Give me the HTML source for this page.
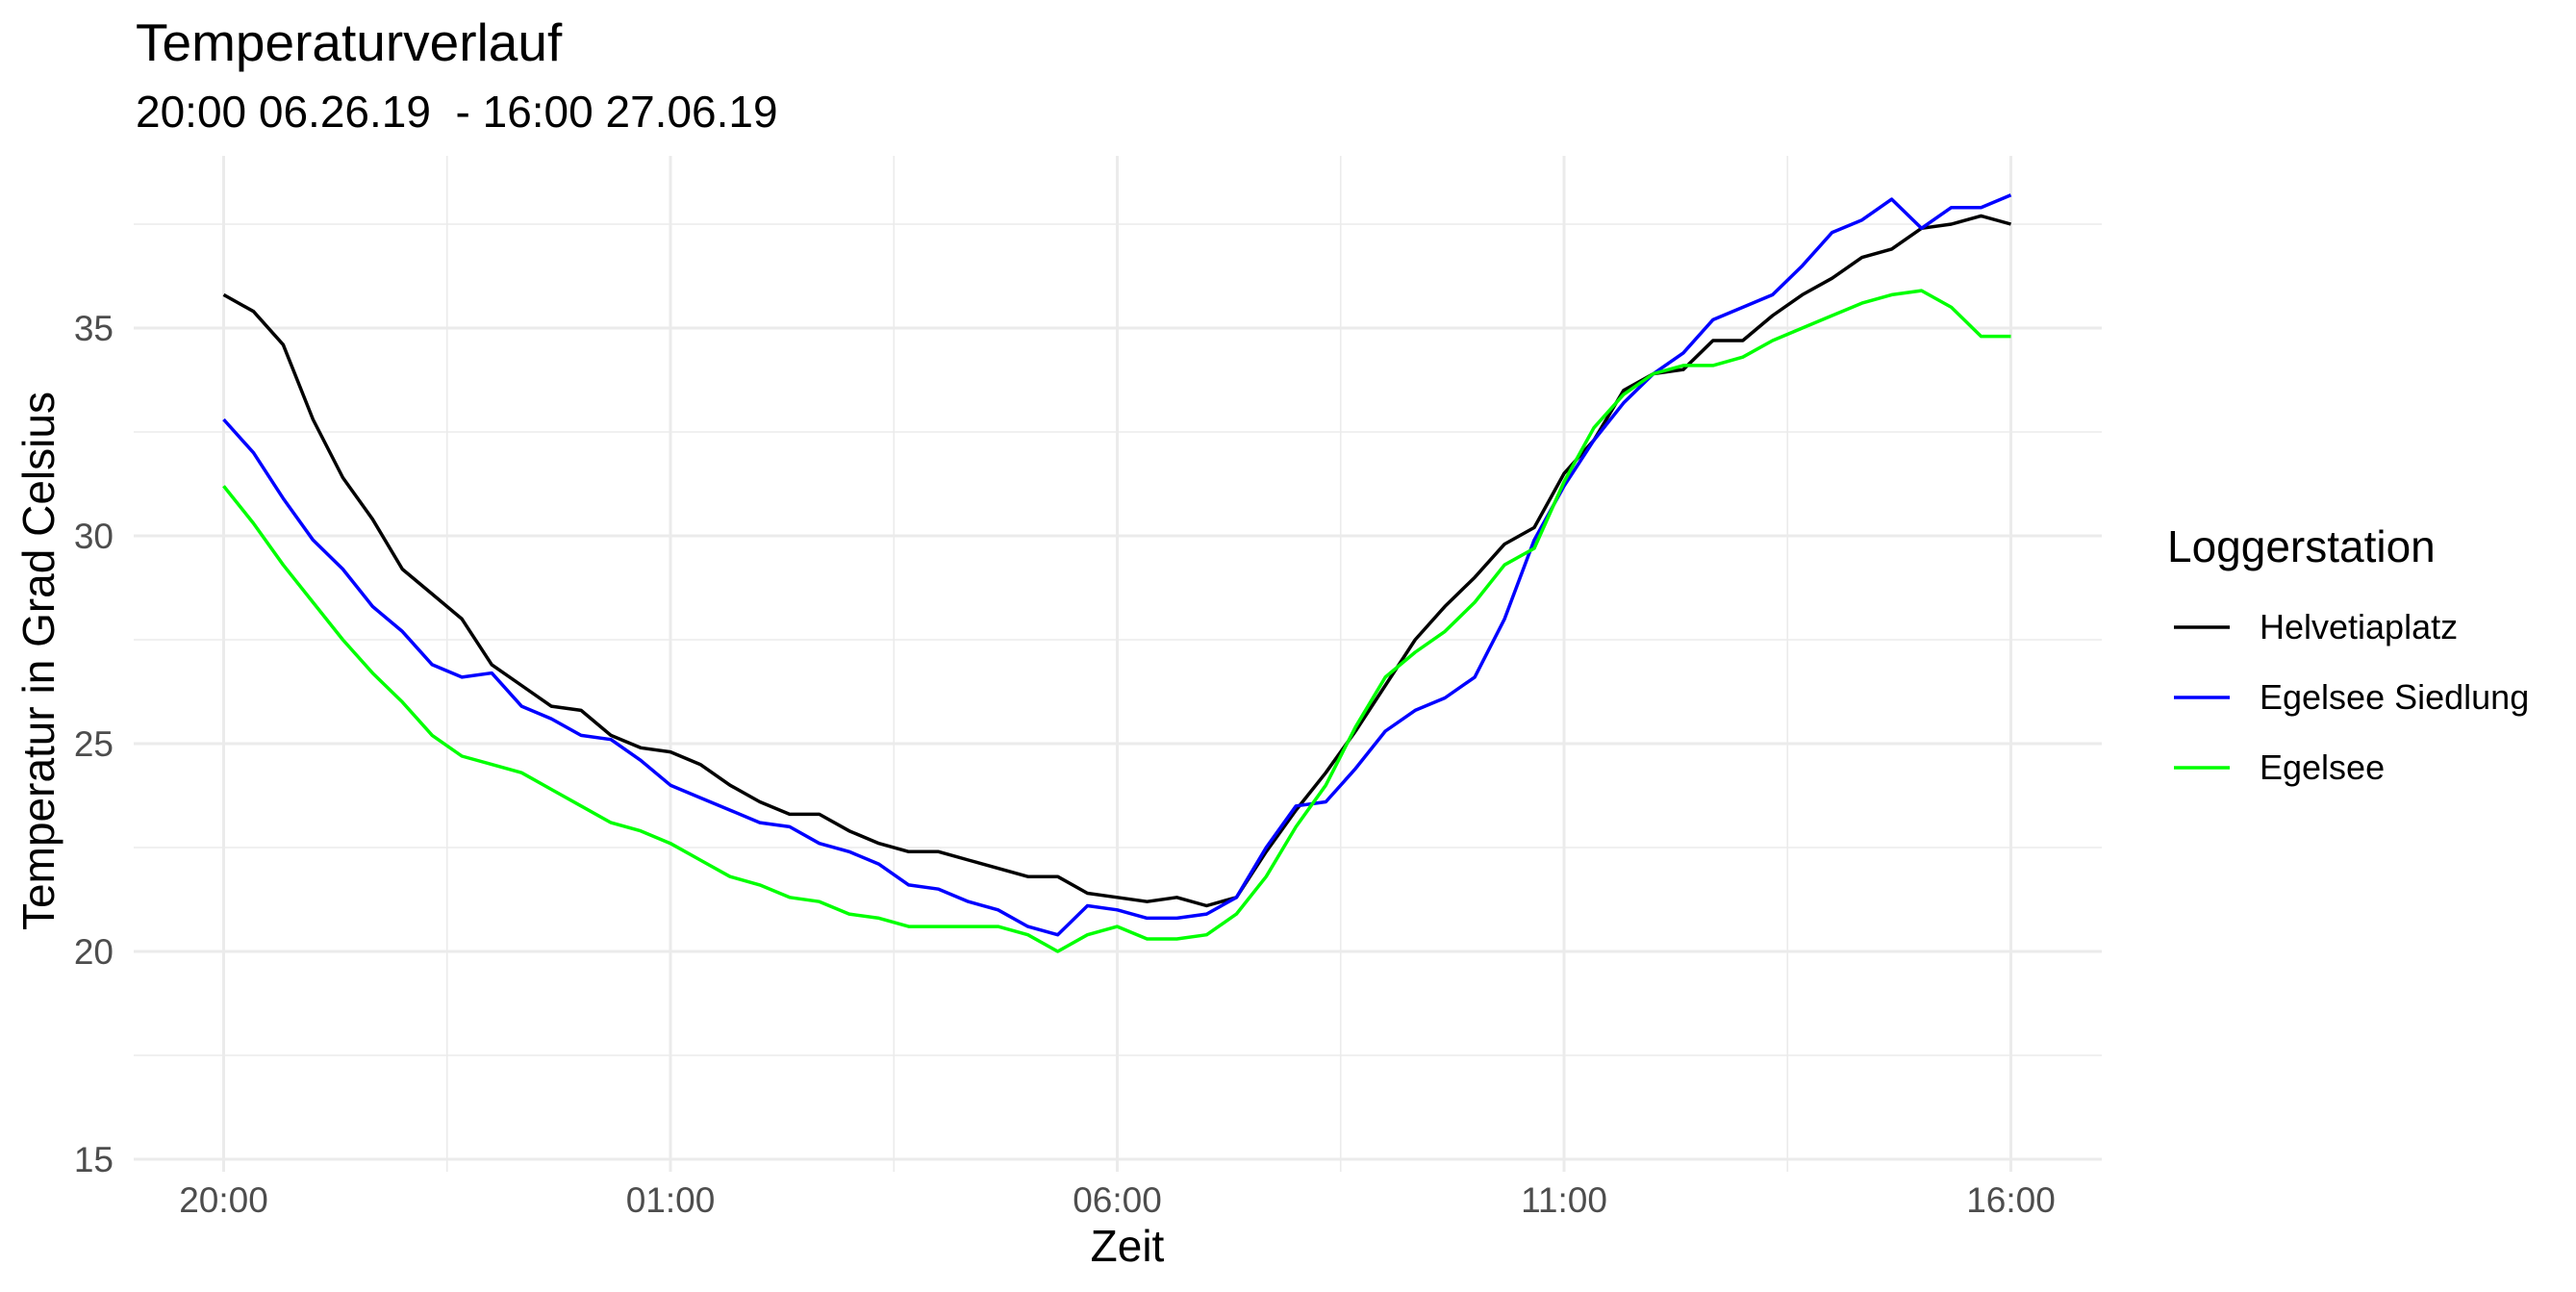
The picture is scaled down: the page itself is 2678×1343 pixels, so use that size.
<!DOCTYPE html>
<html><head><meta charset="utf-8">
<style>
html,body{margin:0;padding:0;background:#fff;}
svg{display:block;font-family:"Liberation Sans",Arial,sans-serif;}
</style></head>
<body>
<svg id="chart" width="2678" height="1343" viewBox="0 0 2678 1343" xmlns="http://www.w3.org/2000/svg">
  <rect width="2678" height="1343" fill="#fff"/>
  <text x="141" y="63" font-size="55" fill="#000">Temperaturverlauf</text>
  <text x="141" y="132" font-size="46" fill="#000" xml:space="preserve">20:00 06.26.19  - 16:00 27.06.19</text>
  <g id="grid"></g>
  <g id="yticks"></g>
  <g id="xticks"></g>
  <g id="lines"></g>
  <text x="1172" y="1311" font-size="46" text-anchor="middle" fill="#000">Zeit</text>
  <text transform="translate(56,687) rotate(-90)" font-size="46" text-anchor="middle" fill="#000">Temperatur in Grad Celsius</text>
  <g>
    <text x="2253" y="584" font-size="46" fill="#000">Loggerstation</text>
    <g>
      <line x1="2260" y1="652" x2="2318" y2="652" stroke="#000" stroke-width="3.5"/>
      <text x="2349" y="664" font-size="36" fill="#000">Helvetiaplatz</text>
    </g>
    <g>
      <line x1="2260" y1="725" x2="2318" y2="725" stroke="#0000ff" stroke-width="3.5"/>
      <text x="2349" y="737" font-size="36" fill="#000">Egelsee Siedlung</text>
    </g>
    <g>
      <line x1="2260" y1="798" x2="2318" y2="798" stroke="#00ff00" stroke-width="3.5"/>
      <text x="2349" y="810" font-size="36" fill="#000">Egelsee</text>
    </g>
  </g>
</svg>
<script>
// minutes after 20:00, every 20 minutes
const times = Array.from({length:61},(_, i)=>i*20);
const helvetiaplatz = [35.8,35.4,34.6,32.8,31.4,30.4,29.2,28.6,28.0,26.9,26.4,25.9,25.8,25.2,24.9,24.8,24.5,24.0,23.6,23.3,23.3,22.9,22.6,22.4,22.4,22.2,22.0,21.8,21.8,21.4,21.3,21.2,21.3,21.1,21.3,22.4,23.4,24.3,25.3,26.4,27.5,28.3,29.0,29.8,30.2,31.5,32.3,33.5,33.9,34.0,34.7,34.7,35.3,35.8,36.2,36.7,36.9,37.4,37.5,37.7,37.5];
const egelseeSiedlung = [32.8,32.0,30.9,29.9,29.2,28.3,27.7,26.9,26.6,26.7,25.9,25.6,25.2,25.1,24.6,24.0,23.7,23.4,23.1,23.0,22.6,22.4,22.1,21.6,21.5,21.2,21.0,20.6,20.4,21.1,21.0,20.8,20.8,20.9,21.3,22.5,23.5,23.6,24.4,25.3,25.8,26.1,26.6,28.0,29.9,31.2,32.3,33.2,33.9,34.4,35.2,35.5,35.8,36.5,37.3,37.6,38.1,37.4,37.9,37.9,38.2];
const egelsee = [31.2,30.3,29.3,28.4,27.5,26.7,26.0,25.2,24.7,24.5,24.3,23.9,23.5,23.1,22.9,22.6,22.2,21.8,21.6,21.3,21.2,20.9,20.8,20.6,20.6,20.6,20.6,20.4,20.0,20.4,20.6,20.3,20.3,20.4,20.9,21.8,23.0,24.0,25.4,26.6,27.2,27.7,28.4,29.3,29.7,31.3,32.6,33.4,33.9,34.1,34.1,34.3,34.7,35.0,35.3,35.6,35.8,35.9,35.5,34.8,34.8];
const yTicks = [15,20,25,30,35];
const xTickMinutes = [0,300,600,900,1200];
const xTickLabels = ["20:00","01:00","06:00","11:00","16:00"];

const NS="http://www.w3.org/2000/svg";
const PL=139, PR=2185, PT=162, PB=1218;
const X0=232.5, XPH=92.9;
const Y20=989, YPD=43.2;
const sx = m => X0 + m/60*XPH;
const sy = v => Y20 - (v-20)*YPD;
function mk(tag, attrs, parent){const e=document.createElementNS(NS,tag);for(const k in attrs)e.setAttribute(k,attrs[k]);parent.appendChild(e);return e;}
const grid=document.getElementById('grid');
for(let i=0;i<yTicks.length;i++){
  const v=yTicks[i]+2.5; const y=sy(v);
  if(y>PT){const l=mk('line',{x1:PL,x2:PR,y1:y,y2:y,stroke:'#ebebeb','stroke-width':1.6},grid);
  
  }
}
for(let i=0;i<xTickMinutes.length-1;i++){
  const x=sx((xTickMinutes[i]+xTickMinutes[i+1])/2);
  const l=mk('line',{x1:x,x2:x,y1:PT,y2:PB,stroke:'#ebebeb','stroke-width':1.6},grid);
  
  
}
const yg=document.getElementById('yticks');
yTicks.forEach(v=>{
  const y=sy(v);
  const l=mk('line',{x1:PL,x2:PR,y1:y,y2:y,stroke:'#ebebeb','stroke-width':3},grid);
  
  
  const t=mk('text',{x:118,y:y+13,'font-size':37,'text-anchor':'end',fill:'#4d4d4d'},yg);
  t.textContent=v;
  
  
});
const xg=document.getElementById('xticks');
xTickMinutes.forEach((m,i)=>{
  const x=sx(m);
  const l=mk('line',{x1:x,x2:x,y1:PT,y2:PB,stroke:'#ebebeb','stroke-width':3},grid);
  
  
  const t=mk('text',{x:x,y:1260,'font-size':37,'text-anchor':'middle',fill:'#4d4d4d'},xg);
  t.textContent=xTickLabels[i];
  
  
});
const lg=document.getElementById('lines');
[[helvetiaplatz,'#000000','line-helvetiaplatz'],[egelseeSiedlung,'#0000ff','line-egelsee-siedlung'],[egelsee,'#00ff00','line-egelsee']].forEach(([vals,col,name])=>{
  const d=vals.map((v,i)=>(i?'L':'M')+sx(times[i]).toFixed(1)+' '+sy(v).toFixed(1)).join(' ');
  const p=mk('path',{d:d,fill:'none',stroke:col,'stroke-width':3.5,'stroke-linejoin':'round'},lg);
  
  
});
</script>
</body></html>
